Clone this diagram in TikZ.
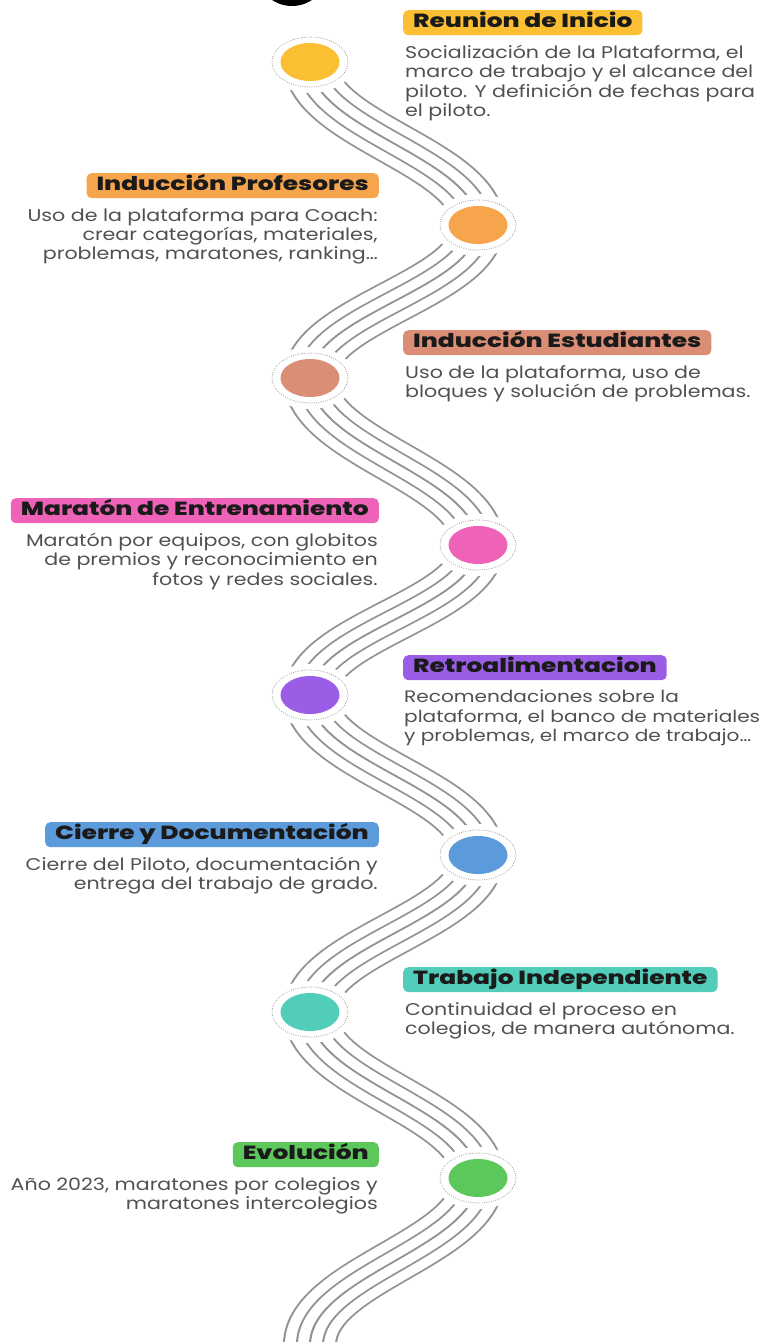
\documentclass[tikz,border=0pt]{standalone}
\usepackage{fontspec}
\setmainfont{Poppins}[FakeStretch=1.21]
\newfontfamily\tlHeadFam{Poppins ExtraBold}[FakeStretch=1.31]
\usetikzlibrary{shapes.geometric}

\definecolor{cYellow}{HTML}{FBBF33}
\definecolor{cOrange}{HTML}{F7A54D}
\definecolor{cSalmon}{HTML}{DB8E76}
\definecolor{cPink}{HTML}{EE62B8}
\definecolor{cPurple}{HTML}{9B5DE5}
\definecolor{cBlue}{HTML}{5B9BDB}
\definecolor{cTeal}{HTML}{52CDB9}
\definecolor{cGreen}{HTML}{5CC85C}
\definecolor{lineGray}{HTML}{939393}
\definecolor{ringGray}{HTML}{9A9A9A}
\definecolor{headText}{HTML}{1A1A1A}
\definecolor{bodyText}{HTML}{505050}

\newcommand{\tlHead}{\tlHeadFam\fontsize{19}{22}\selectfont}
\newcommand{\tlBody}{\fontsize{17}{19.3}\selectfont}

\begin{document}
\begin{tikzpicture}[x=1pt,y=-1pt,
  % five parallel strands built from stacked strokes (spacing 10.4, width 1.7)
  ribbon/.style={
    preaction={draw=lineGray, line width=43.3pt},
    preaction={draw=white,    line width=39.9pt},
    preaction={draw=lineGray, line width=22.5pt},
    preaction={draw=white,    line width=19.1pt},
    draw=lineGray, line width=1.7pt},
  gap/.style={fill=white},
  ring/.style={draw=ringGray, line width=1.1pt, line cap=round, dash pattern=on 0pt off 2.3pt},
  dotnode/.style={ellipse, minimum width=59pt, minimum height=38pt, inner sep=0pt, fill=#1},
  tag/.style={fill=#1, rounded corners=5pt, inner xsep=10pt, inner ysep=0pt,
    minimum height=25pt, text height=14pt, text depth=4pt, text=headText, font=\tlHead},
  descR/.style={anchor=north west, align=left, inner sep=0pt, text=bodyText, font=\tlBody},
  descL/.style={anchor=north east, align=right, inner sep=0pt, text=bodyText, font=\tlBody},
]
\useasboundingbox (0,0) rectangle (769,1342);
\clip (0,0) rectangle (769,1342);

% milestone positions along the wave
\coordinate (p1) at (310,62);
\coordinate (p2) at (478,225);
\coordinate (p3) at (310,378);
\coordinate (p4) at (478,545);
\coordinate (p5) at (310,695);
\coordinate (p6) at (478,855);
\coordinate (p7) at (310,1012);
\coordinate (p8) at (478,1178);

% black mark at the top edge
\fill[black] (292,-30) circle (36pt);

% the wave, drawn in a frame squeezed by 1.25 and stretched back on the canvas
\begin{scope}[transform canvas={xscale=1.25}]
  \coordinate (w1) at (310/1.25,62);
  \coordinate (w2) at (478/1.25,225);
  \coordinate (w3) at (310/1.25,378);
  \coordinate (w4) at (478/1.25,545);
  \coordinate (w5) at (310/1.25,695);
  \coordinate (w6) at (478/1.25,855);
  \coordinate (w7) at (310/1.25,1012);
  \coordinate (w8) at (478/1.25,1178);
  \coordinate (w9) at (310/1.25,1345);
  \path[ribbon]
    (w1) .. controls +(0,68) and +(0,-68) .. (w2)
         .. controls +(0,64) and +(0,-64) .. (w3)
         .. controls +(0,70) and +(0,-70) .. (w4)
         .. controls +(0,63) and +(0,-63) .. (w5)
         .. controls +(0,67) and +(0,-67) .. (w6)
         .. controls +(0,66) and +(0,-66) .. (w7)
         .. controls +(0,70) and +(0,-70) .. (w8)
         .. controls +(0,70) and +(0,-70) .. (w9);
\end{scope}

% milestone markers
\foreach \p/\c in {p1/cYellow,p2/cOrange,p3/cSalmon,p4/cPink,p5/cPurple,p6/cBlue,p7/cTeal,p8/cGreen} {
  \fill[gap] (\p) ellipse [x radius=45pt, y radius=31pt];
  \draw[ring] (\p) ellipse [x radius=38pt, y radius=25pt];
  \node[dotnode=\c] (m\p) at (\p) {};
}

% headings
\node[tag=cYellow, anchor=north west] (h1) at (403,10)   {Reunion de Inicio};
\node[tag=cOrange, anchor=north east] (h2) at (379,173)  {Inducción Profesores};
\node[tag=cSalmon, anchor=north west] (h3) at (403,330)  {Inducción Estudiantes};
\node[tag=cPink,   anchor=north east] (h4) at (379,498)  {Maratón de Entrenamiento};
\node[tag=cPurple, anchor=north west] (h5) at (403,655)  {Retroalimentacion};
\node[tag=cBlue,   anchor=north east] (h6) at (379,822)  {Cierre y Documentación};
\node[tag=cTeal,   anchor=north west] (h7) at (403,967)  {Trabajo Independiente};
\node[tag=cGreen,  anchor=north east] (h8) at (379,1142) {Evolución};

% descriptions
\node[descR] (d1) at (405,45)   {Socialización de la Plataforma, el\\marco de trabajo y el alcance del\\piloto. Y definición de fechas para\\el piloto.};
\node[descL] (d2) at (378,208)  {Uso de la plataforma para Coach:\\crear categorías, materiales,\\problemas, maratones, ranking…};
\node[descR] (d3) at (405,365)  {Uso de la plataforma, uso de\\bloques y solución de problemas.};
\node[descL] (d4) at (378,533)  {Maratón por equipos, con globitos\\de premios y reconocimiento en\\fotos y redes sociales.};
\node[descR, font=\fontsize{16.6}{19.3}\selectfont] (d5) at (404,690)  {Recomendaciones sobre la\\plataforma, el banco de materiales\\y problemas, el marco de trabajo…};
\node[descL] (d6) at (378,857)  {Cierre del Piloto, documentación y\\entrega del trabajo de grado.};
\node[descR] (d7) at (405,1002) {Continuidad el proceso en\\colegios, de manera autónoma.};
\node[descL] (d8) at (378,1177) {Año 2023, maratones por colegios y\\maratones intercolegios};
\end{tikzpicture}
\end{document}
